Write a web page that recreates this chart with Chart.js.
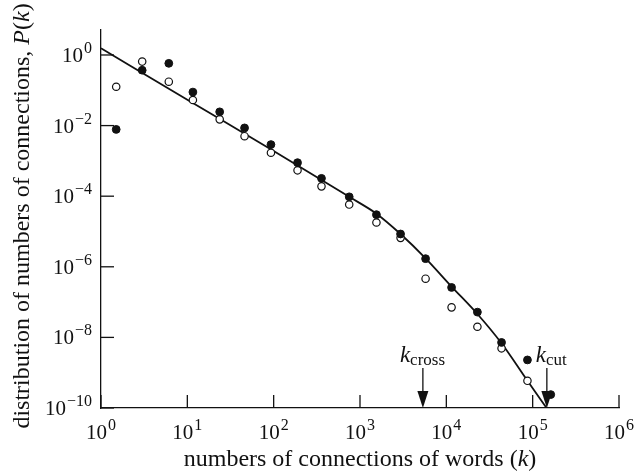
<!DOCTYPE html>
<html>
<head>
<meta charset="utf-8">
<script src="https://cdn.jsdelivr.net/npm/chart.js@4.4.1/dist/chart.umd.min.js"></script>
<style>
  body { margin: 0; background: #fff; }
  canvas { display: block; }
</style>
</head>
<body>
<canvas id="chart-degree" width="637" height="474"></canvas>
<script>
// binned connection counts k
const kBins = [1.5, 3, 6.1, 11.6, 23.7, 46, 93, 189, 358, 750, 1550, 2950, 5750, 11500, 22900, 43600, 87000, 162000];
// filled circles
const filledP = [7.8e-3, 0.37, 0.58, 0.089, 0.0245, 8.6e-3, 2.9e-3, 8.9e-4, 3.2e-4, 9.6e-5, 3.0e-5, 8.5e-6, 1.7e-6, 2.6e-7, 5.2e-8, 7.2e-9, 2.3e-9, 2.4e-10];
// open circles (no value at the last bin)
const openP = [0.126, 0.65, 0.175, 0.053, 0.015, 5.0e-3, 1.7e-3, 5.4e-4, 1.9e-4, 5.8e-5, 1.8e-5, 6.6e-6, 4.6e-7, 7.1e-8, 2.0e-8, 4.9e-9, 5.9e-10];
// fitted curve
const fitK = [1, 10, 100, 750, 1550, 2950, 5750, 11500, 22900, 43600, 87000, 145000];
const fitP = [1.55, 0.054, 1.9e-3, 9.6e-5, 3.2e-5, 8.5e-6, 1.74e-6, 2.75e-7, 4.6e-8, 6.8e-9, 5.9e-10, 1e-10];
// axis ticks (exponents of 10)
const xTickExp = [0, 1, 2, 3, 4, 5, 6];
const yTickExp = [0, -2, -4, -6, -8, -10];
// marked points
const kCross = 5350;
const kCut = 146000;

const serif = '"Liberation Serif", "DejaVu Serif", serif';

function pts(xs, ys) {
    return ys.map((y, i) => ({ x: xs[i], y: y }));
}

function powLabel(ctx, exp, x, y, align) {
    const e = exp < 0 ? '\u2212' + (-exp) : String(exp);
    ctx.font = '21px ' + serif;
    const wb = ctx.measureText('10').width;
    ctx.font = '16px ' + serif;
    const we = ctx.measureText(e).width;
    const w = wb + we + 1;
    let x0 = align === 'right' ? x - w : x - w / 2;
    ctx.textAlign = 'left';
    ctx.textBaseline = 'alphabetic';
    ctx.font = '21px ' + serif;
    ctx.fillText('10', x0, y);
    ctx.font = '16px ' + serif;
    ctx.fillText(e, x0 + wb + 1, y - 9);
}

function arrow(ctx, x, yTop, yBottom) {
    ctx.beginPath();
    ctx.moveTo(x, yTop);
    ctx.lineTo(x, yBottom - 14);
    ctx.stroke();
    ctx.beginPath();
    ctx.moveTo(x - 5.5, yBottom - 17);
    ctx.lineTo(x + 5.5, yBottom - 17);
    ctx.lineTo(x, yBottom);
    ctx.closePath();
    ctx.fill();
}

function kLabel(ctx, sub, x, y) {
    ctx.textAlign = 'left';
    ctx.textBaseline = 'alphabetic';
    ctx.font = 'italic 23px ' + serif;
    ctx.fillText('k', x, y);
    const wk = ctx.measureText('k').width;
    ctx.font = '17px ' + serif;
    ctx.fillText(sub, x + wk, y + 3);
}

// draws a run of [text, italic] pieces starting at x, baseline 0/ y
function runText(ctx, parts, size, x, y) {
    let cx = x;
    parts.forEach(([t, it]) => {
        ctx.font = (it ? 'italic ' : '') + size + 'px ' + serif;
        ctx.fillText(t, cx, y);
        cx += ctx.measureText(t).width;
    });
}

function runWidth(ctx, parts, size) {
    let w = 0;
    parts.forEach(([t, it]) => {
        ctx.font = (it ? 'italic ' : '') + size + 'px ' + serif;
        w += ctx.measureText(t).width;
    });
    return w;
}

const decorPlugin = {
    id: 'decor',
    afterDraw(chart) {
        const ctx = chart.ctx;
        const xs = chart.scales.x;
        const ys = chart.scales.y;
        const a = chart.chartArea;
        ctx.save();
        ctx.strokeStyle = '#111';
        ctx.fillStyle = '#111';
        ctx.lineWidth = 1.3;

        // inward tick marks + labels
        xTickExp.forEach(n => {
            const px = xs.getPixelForValue(Math.pow(10, n));
            ctx.beginPath();
            ctx.moveTo(px, a.bottom);
            ctx.lineTo(px, a.bottom - 13);
            ctx.stroke();
            powLabel(ctx, n, px, a.bottom + 31, 'center');
        });
        yTickExp.forEach(n => {
            const py = ys.getPixelForValue(Math.pow(10, n));
            ctx.beginPath();
            ctx.moveTo(a.left, py);
            ctx.lineTo(a.left + 13, py);
            ctx.stroke();
            powLabel(ctx, n, a.left - 9, py + 7, 'right');
        });

        ctx.textAlign = 'left';
        ctx.textBaseline = 'alphabetic';

        // x title
        const xt = [['numbers of connections of words (', false], ['k', true], [')', false]];
        const xw = runWidth(ctx, xt, 24);
        runText(ctx, xt, 24, (a.left + a.right) / 2 - xw / 2, 466);

        // y title
        const yt = [['distribution of numbers of connections, ', false], ['P', true], ['(', false], ['k', true], [')', false]];
        ctx.save();
        ctx.translate(29, 216);
        ctx.rotate(-Math.PI / 2);
        const yw = runWidth(ctx, yt, 24);
        runText(ctx, yt, 24, -yw / 2, 0);
        ctx.restore();

        // k_cross and k_cut markers
        const xc = xs.getPixelForValue(kCross);
        const xk = xs.getPixelForValue(kCut);
        arrow(ctx, xc, 368, a.bottom);
        arrow(ctx, xk, 368, a.bottom);
        kLabel(ctx, 'cross', xc - 23, 362);
        kLabel(ctx, 'cut', xk - 11, 362);

        ctx.restore();
    }
};

const ctx = document.getElementById('chart-degree').getContext('2d');

new Chart(ctx, {
    type: 'scatter',
    data: {
        datasets: [
            {
                label: 'filled',
                data: pts(kBins, filledP),
                pointRadius: 3.9,
                pointBackgroundColor: '#111',
                pointBorderColor: '#111',
                pointBorderWidth: 1,
                order: 1,
            },
            {
                label: 'open',
                data: pts(kBins, openP),
                pointRadius: 3.7,
                pointBackgroundColor: '#fff',
                pointBorderColor: '#111',
                pointBorderWidth: 1.2,
                order: 2,
            },
            {
                label: 'fit',
                data: pts(fitK, fitP),
                showLine: true,
                borderColor: '#111',
                borderWidth: 1.8,
                pointRadius: 0,
                cubicInterpolationMode: 'monotone',
                order: 3,
            },
        ],
    },
    options: {
        responsive: false,
        animation: false,
        layout: { padding: { left: 101, right: 18, top: 30, bottom: 66 } },
        plugins: {
            legend: { display: false },
            tooltip: { enabled: false },
        },
        scales: {
            x: {
                type: 'logarithmic',
                min: 1,
                max: 1e6,
                grid: { display: false, drawTicks: false },
                ticks: { display: false },
                border: { display: true, color: '#111', width: 1.3 },
            },
            y: {
                type: 'logarithmic',
                min: 1e-10,
                max: 5.1,
                grid: { display: false, drawTicks: false },
                ticks: { display: false },
                border: { display: true, color: '#111', width: 1.3 },
            },
        },
    },
    plugins: [decorPlugin],
});
</script>
</body>
</html>
